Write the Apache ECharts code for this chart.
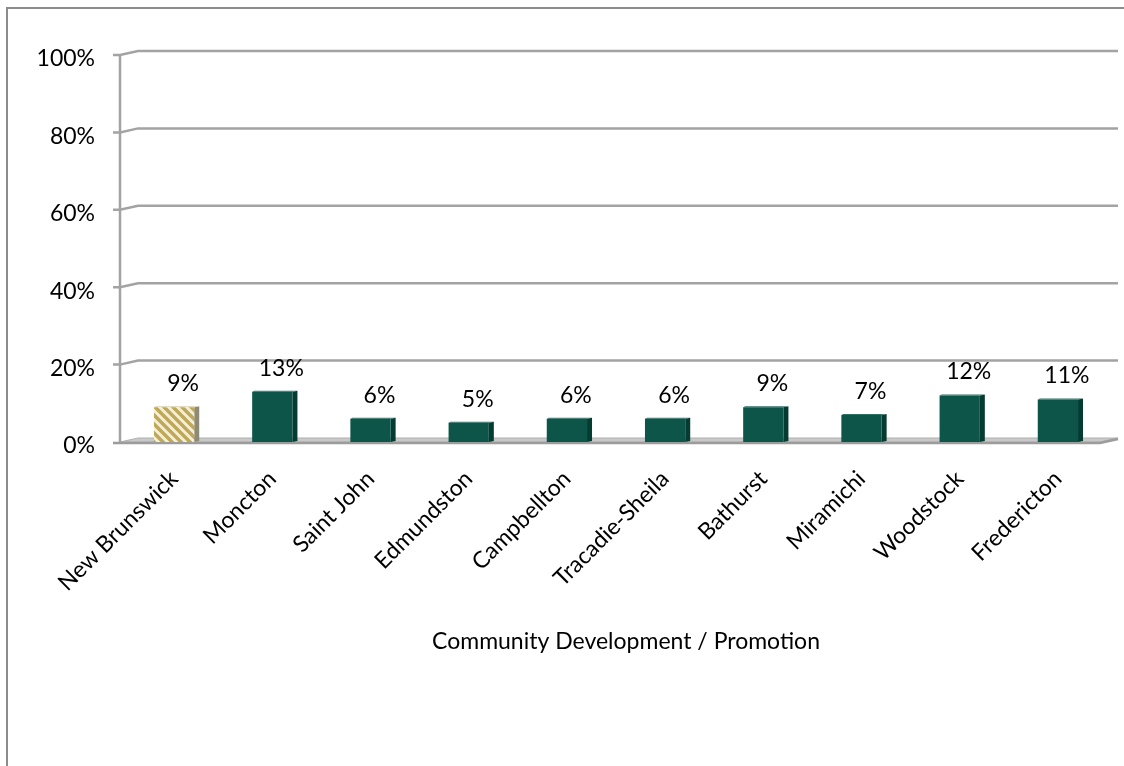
<!DOCTYPE html>
<html>
<head>
<meta charset="utf-8">
<script src="https://cdn.jsdelivr.net/npm/echarts@6/dist/echarts.min.js"></script>
<style>
  html, body { margin: 0; padding: 0; background: #ffffff; }
  #chart { width: 1124px; height: 766px; }
</style>
</head>
<body>
<div id="chart"></div>
<script>
// Share of respondents naming community development / promotion, by community
const categories = ['New Brunswick', 'Moncton', 'Saint John', 'Edmundston', 'Campbellton',
  'Tracadie-Sheila', 'Bathurst', 'Miramichi', 'Woodstock', 'Fredericton'];
const values = [9, 13, 6, 5, 6, 6, 9, 7, 12, 11];
const yTicks = [0, 20, 40, 60, 80, 100];
const axisTitle = 'Community Development / Promotion';

const FONT = 'Lato, "Open Sans", sans-serif';

// diagonal hatch used for the provincial total
function makeHatch() {
  const c = document.createElement('canvas');
  c.width = 9; c.height = 9;
  const g = c.getContext('2d');
  g.fillStyle = '#F5EFD8';
  g.fillRect(0, 0, 9, 9);
  g.strokeStyle = '#BFA858';
  g.lineWidth = 3.5;
  g.beginPath();
  g.moveTo(-2, -2); g.lineTo(11, 11);
  g.moveTo(-11, -2); g.lineTo(2, 11);
  g.moveTo(7, -2); g.lineTo(20, 11);
  g.stroke();
  return c;
}
const hatch = { image: makeHatch(), repeat: 'repeat' };

const barFront = values.map((v, i) => i === 0 ? hatch : '#0C5548');
const barSide = values.map((v, i) => i === 0 ? '#8E8A73' : '#053C32');
const barTop = values.map((v, i) => i === 0 ? '#D9D0AA' : '#2C7264');

const DX = 18, DY = 4;     // depth offset of the back wall
const GRID_COLOR = '#A3A3A3';

function renderWall(params, api) {
  const cs = params.coordSys;
  const v = api.value(1);
  const y = api.coord([0, v])[1];
  const fx = cs.x - 5;
  const fr = cs.x + cs.width - 7;
  const children = [];
  if (v === 0) {
    children.push({
      type: 'polygon',
      shape: { points: [[fx, y], [fr, y], [fr + DX, y - DY], [fx + DX, y - DY]] },
      style: { fill: '#C9C9C9', stroke: '#B0B0B0', lineWidth: 1 }
    });
    children.push({
      type: 'polyline',
      shape: { points: [[fx - 7, y + 1], [fr, y + 1], [fr + DX, y - DY + 1]] },
      style: { fill: null, stroke: '#9C9C9C', lineWidth: 2.5 }
    });
  } else {
    children.push({
      type: 'polyline',
      shape: { points: [[fx - 7, y], [fx, y], [fx + DX, y - DY], [fr + DX, y - DY]] },
      style: { fill: null, stroke: GRID_COLOR, lineWidth: 2.5 }
    });
  }
  if (params.dataIndex === yTicks.length - 1) {
    const y0 = api.coord([0, 0])[1];
    children.push({
      type: 'line',
      shape: { x1: fx, y1: y, x2: fx, y2: y0 },
      style: { stroke: GRID_COLOR, lineWidth: 2.5 }
    });
  }
  return { type: 'group', children };
}

function renderBar(params, api) {
  const i = api.value(0);
  const v = api.value(1);
  const top = api.coord([i, v]);
  const base = api.coord([i, 0]);
  const bw = api.size([1, 0])[0] * 0.41;
  const x = top[0] - bw / 2;
  const sd = 5;
  return {
    type: 'group',
    children: [
      {
        type: 'polygon',
        shape: { points: [[x + bw, top[1]], [x + bw + sd, top[1] - 1], [x + bw + sd, base[1] - 1], [x + bw, base[1]]] },
        style: { fill: barSide[i] }
      },
      {
        type: 'polygon',
        shape: { points: [[x, top[1]], [x + 2, top[1] - 1], [x + bw + sd, top[1] - 1], [x + bw, top[1]]] },
        style: { fill: barTop[i] }
      },
      {
        type: 'rect',
        shape: { x: x, y: top[1], width: bw, height: base[1] - top[1] },
        style: { fill: barFront[i] }
      },
      {
        type: 'text',
        style: {
          x: top[0] + 9, y: top[1] - 12,
          text: v + '%',
          align: 'center', verticalAlign: 'bottom',
          fill: '#000000', fontSize: 23, fontFamily: FONT
        }
      }
    ]
  };
}

const chart = echarts.init(document.getElementById('chart'), null, { renderer: 'canvas' });
chart.setOption({
  animation: false,
  backgroundColor: '#ffffff',
  grid: { left: 125, right: 17, top: 55, bottom: 324, containLabel: false },
  graphic: [{
    type: 'rect',
    shape: { x: 7, y: 8, width: 1300, height: 1000 },
    style: { fill: null, stroke: '#8C8C8C', lineWidth: 2 },
    silent: true
  }],
  xAxis: {
    type: 'category',
    data: categories,
    axisLine: { show: false },
    axisTick: { show: false },
    axisLabel: {
      interval: 0, rotate: 45, margin: 33,
      fontSize: 23, fontFamily: FONT, color: '#000000'
    },
    name: axisTitle,
    nameLocation: 'middle',
    nameGap: 188,
    nameTextStyle: { fontSize: 23, fontFamily: FONT, color: '#000000', padding: [0, 0, 0, 20] }
  },
  yAxis: {
    type: 'value',
    min: 0, max: 100, interval: 20,
    axisLine: { show: false },
    axisTick: { show: false },
    splitLine: { show: false },
    axisLabel: {
      formatter: '{value}%', margin: 30,
      fontSize: 23, fontFamily: FONT, color: '#000000',
      verticalAlign: 'top', lineHeight: 8
    }
  },
  series: [
    {
      type: 'custom',
      z: 1,
      clip: false,
      silent: true,
      renderItem: renderWall,
      data: yTicks.map(t => [0, t])
    },
    {
      type: 'custom',
      z: 2,
      clip: false,
      silent: true,
      renderItem: renderBar,
      data: values.map((v, i) => [i, v])
    }
  ]
});
</script>
</body>
</html>
